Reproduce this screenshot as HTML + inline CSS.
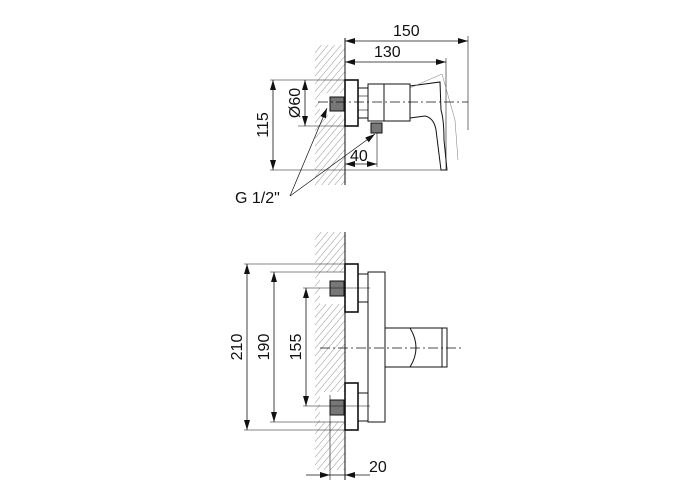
<!DOCTYPE html>
<html><head><style>
html,body{margin:0;padding:0;background:#fff;}
svg{display:block;}
text{font-family:"Liberation Sans",sans-serif;font-size:16px;fill:#111;}
</style></head><body>
<svg width="700" height="500" viewBox="0 0 700 500" xmlns="http://www.w3.org/2000/svg">
<defs>
<pattern id="h" width="5" height="5" patternUnits="userSpaceOnUse" patternTransform="rotate(40)">
<line x1="0" y1="0" x2="0" y2="5" stroke="#666" stroke-width="0.7"/>
</pattern>
<marker id="a" viewBox="0 0 10 6" refX="10" refY="3" markerWidth="10" markerHeight="6" orient="auto-start-reverse" markerUnits="userSpaceOnUse">
<path d="M0,0 L10,3 L0,6 z" fill="#111"/>
</marker>
</defs>
<g stroke="#111" fill="none" stroke-width="1">
<!-- TOP VIEW -->
<rect x="315" y="45" width="30" height="140" fill="url(#h)" stroke="none"/>
<rect x="320" y="93" width="25" height="22" fill="#fff" stroke="none"/>
<line x1="345" y1="38" x2="345" y2="185"/>
<line x1="345" y1="41" x2="468" y2="41" marker-start="url(#a)" marker-end="url(#a)" stroke-width="0.8"/>
<line x1="468" y1="36" x2="468" y2="130" stroke-width="0.6"/>
<line x1="345" y1="62" x2="446" y2="62" marker-start="url(#a)" marker-end="url(#a)" stroke-width="0.8"/>
<line x1="446" y1="58" x2="446" y2="170" stroke-width="0.6"/>
<rect x="345" y="80" width="13" height="46" stroke-width="1.6"/>
<rect x="358" y="88" width="10" height="30"/>
<line x1="358" y1="96" x2="368" y2="96" stroke-width="0.6"/>
<line x1="358" y1="110" x2="368" y2="110" stroke-width="0.6"/>
<rect x="368" y="84" width="42" height="37"/>
<line x1="384" y1="84" x2="384" y2="121"/>
<rect x="371" y="123" width="11" height="10" fill="#777"/>
<rect x="330" y="97" width="14" height="14" fill="#777"/>
<path d="M410,86 L440,82 L441,110 Q444,120 444,140 L447,170 L441,170 L436,130 Q434,118 425,116 L410,118"/>
<path d="M410,88 L442,74 L455,120 L458,160" stroke-width="0.5" stroke="#777"/>
<line x1="318" y1="102" x2="468" y2="102" stroke-dasharray="10,3,2,3" stroke-width="0.7"/>
<line x1="270" y1="80" x2="345" y2="80" stroke-width="0.6"/>
<line x1="298" y1="126" x2="345" y2="126" stroke-width="0.6"/>
<line x1="270" y1="170" x2="446" y2="170" stroke-width="0.6"/>
<line x1="273" y1="80" x2="273" y2="170" marker-start="url(#a)" marker-end="url(#a)" stroke-width="0.8"/>
<line x1="305" y1="80" x2="305" y2="126" marker-start="url(#a)" marker-end="url(#a)" stroke-width="0.8"/>
<line x1="345" y1="164" x2="377" y2="164" marker-start="url(#a)" marker-end="url(#a)" stroke-width="0.8"/>
<line x1="377" y1="133" x2="377" y2="167" stroke-width="0.6"/>
<line x1="290" y1="196" x2="327" y2="108" stroke-width="0.7" marker-end="url(#a)"/>
<line x1="290" y1="196" x2="375" y2="134" stroke-width="0.7" marker-end="url(#a)"/>
<!-- BOTTOM VIEW -->
<rect x="315" y="232" width="30" height="238" fill="url(#h)" stroke="none"/>
<rect x="320" y="272" width="25" height="32" fill="#fff" stroke="none"/>
<rect x="320" y="392" width="25" height="30" fill="#fff" stroke="none"/>
<line x1="345" y1="232" x2="345" y2="480"/>
<rect x="345" y="264" width="13" height="48" stroke-width="1.6"/>
<rect x="358" y="274" width="10" height="28"/>
<rect x="330" y="281" width="14" height="15" fill="#777"/>
<rect x="345" y="383" width="13" height="47" stroke-width="1.6"/>
<rect x="358" y="393" width="10" height="28"/>
<rect x="330" y="400" width="14" height="15" fill="#777"/>
<rect x="368" y="272" width="17" height="150"/>
<rect x="385" y="328" width="62" height="39"/>
<path d="M410,328 Q422,348 410,367" />
<line x1="442" y1="328" x2="442" y2="367"/>
<line x1="320" y1="348" x2="463" y2="348" stroke-dasharray="10,3,2,3" stroke-width="0.7"/>
<line x1="244" y1="264" x2="345" y2="264" stroke-width="0.6"/>
<line x1="244" y1="430" x2="345" y2="430" stroke-width="0.6"/>
<line x1="270" y1="272" x2="345" y2="272" stroke-width="0.6"/>
<line x1="270" y1="422" x2="345" y2="422" stroke-width="0.6"/>
<line x1="303" y1="288" x2="370" y2="288" stroke-width="0.6"/>
<line x1="303" y1="406" x2="370" y2="406" stroke-width="0.6"/>
<line x1="247" y1="264" x2="247" y2="430" marker-start="url(#a)" marker-end="url(#a)" stroke-width="0.8"/>
<line x1="274" y1="272" x2="274" y2="422" marker-start="url(#a)" marker-end="url(#a)" stroke-width="0.8"/>
<line x1="306" y1="288" x2="306" y2="406" marker-start="url(#a)" marker-end="url(#a)" stroke-width="0.8"/>
<line x1="330" y1="395" x2="330" y2="480" stroke-width="0.6"/>
<line x1="306" y1="475" x2="330" y2="475" marker-end="url(#a)" stroke-width="0.8"/>
<line x1="370" y1="475" x2="345" y2="475" marker-end="url(#a)" stroke-width="0.8"/>
<line x1="330" y1="475" x2="345" y2="475" stroke-width="0.8"/>
</g>
<text x="393" y="36">150</text>
<text x="374" y="57">130</text>
<text x="350" y="161">40</text>
<text x="235" y="203">G 1/2"</text>
<text transform="translate(268,125) rotate(-90)" text-anchor="middle">115</text>
<text transform="translate(300,103) rotate(-90)" text-anchor="middle">Ø60</text>
<text transform="translate(242,347) rotate(-90)" text-anchor="middle">210</text>
<text transform="translate(269,347) rotate(-90)" text-anchor="middle">190</text>
<text transform="translate(301,347) rotate(-90)" text-anchor="middle">155</text>
<text x="369" y="472">20</text>
</svg>
</body></html>
